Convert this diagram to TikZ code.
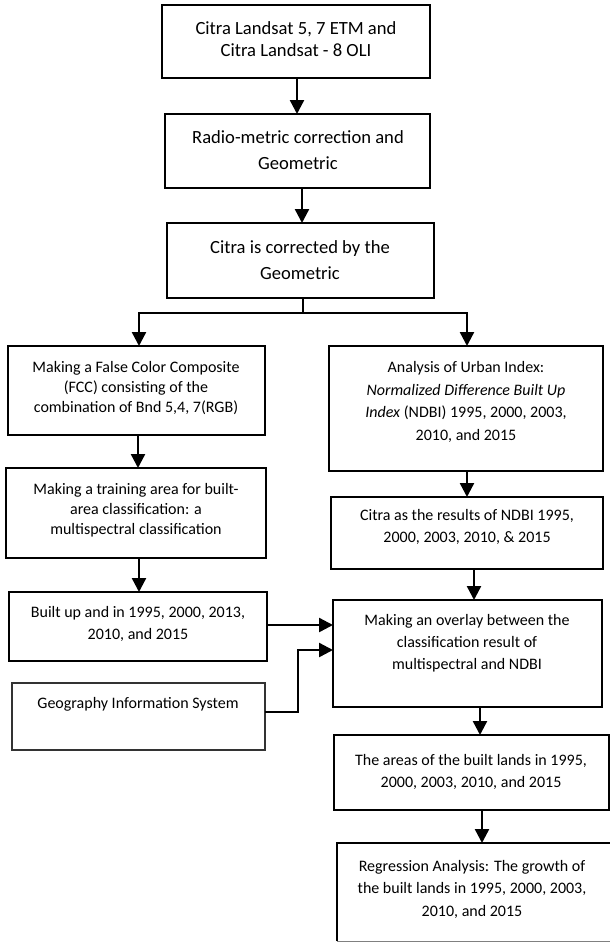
\documentclass[tikz,border=0pt]{standalone}
\usepackage{fontspec}
\setmainfont{Carlito}
\usetikzlibrary{fit,arrows.meta}
\begin{document}
\begin{tikzpicture}[x=1pt,y=-1pt,
  box/.style={draw, line width=1.4pt, inner sep=0pt, outer sep=0pt},
  big/.style={align=center, inner sep=0pt, font=\fontsize{18.6}{22}\selectfont},
  bigw/.style={align=center, inner sep=0pt, font=\fontsize{18.6}{26}\selectfont},
  small/.style={align=center, inner sep=0pt, font=\fontsize{16}{21.5}\selectfont},
  smallt/.style={align=center, inner sep=0pt, font=\fontsize{16}{20}\selectfont},
  arr/.style={line width=2.4pt, -{Triangle[width=14pt,length=14pt]}},
  conn/.style={line width=1.5pt}]
\useasboundingbox (0,0) rectangle (610,943);
\clip (0,0) rectangle (610,943);

% boxes
\node[box, fit={(162,5) (430,78)}] (b1) {};
\node[box, fit={(165,114) (430,188)}] (b2) {};
\node[box, fit={(167,223) (434,298)}] (b3) {};
\node[box, fit={(8,346) (265,435)}] (fcc) {};
\node[box, fit={(6,468) (266,558)}] (train) {};
\node[box, fit={(9,592) (267,661)}] (built) {};
\node[box, draw=black!80, fit={(12,683) (265,750)}] (gis) {};
\node[box, fit={(329,346) (603,471)}] (ndbi) {};
\node[box, fit={(331,497) (603,569)}] (cndbi) {};
\node[box, fit={(333,600) (602,707)}] (over) {};
\node[box, fit={(334,735) (609,810)}] (areas) {};
\node[box, draw=none, fit={(337,843) (630,941)}] (regr) {};
\draw[line width=1.4pt] (regr.south west) -- (regr.north west) -- (regr.north east);
\draw[line width=1pt, black!50] (regr.south west) -- (regr.south east);

% texts
\node[big] (t1) at (296,39) {Citra Landsat 5, 7 ETM and\\Citra Landsat - 8 OLI};
\node[bigw] (t2) at (298,150) {Radio-metric correction and\\Geometric};
\node[bigw] (t3) at (300,260) {Citra is corrected by the\\Geometric};
\node[smallt] (t4) at (136,388) {Making a False Color Composite\\(FCC) consisting of the\\combination of Bnd 5,4, 7(RGB)};
\node[smallt] (t5) at (136,510) {Making a training area for built-\\area classification: a\\multispectral classification};
\node[small] (t6) at (138,624) {Built up and in 1995, 2000, 2013,\\2010, and 2015};
\node[small] (t7) at (138,704) {Geography Information System};
\node[small, font=\fontsize{16}{22.5}\selectfont] (t8) at (466,402) {Analysis of Urban Index:\\\textit{Normalized Difference Built Up}\\\textit{Index} (NDBI) 1995, 2000, 2003,\\2010, and 2015};
\node[small] (t9) at (467,527) {Citra as the results of NDBI 1995,\\2000, 2003, 2010, \& 2015};
\node[small, font=\fontsize{16}{22}\selectfont] (t10) at (467,643) {Making an overlay between the\\classification result of\\multispectral and NDBI};
\node[small, font=\fontsize{16}{22}\selectfont] (t11) at (471,772) {The areas of the built lands in 1995,\\2000, 2003, 2010, and 2015};
\node[small, font=\fontsize{16}{22.5}\selectfont] (t12) at (472,889) {Regression Analysis: The growth of\\the built lands in 1995, 2000, 2003,\\2010, and 2015};

% helper coordinates
\coordinate (x1) at (297,0);
\coordinate (x2) at (302,0);
\coordinate (br) at (303,313);
\coordinate (bl) at (139,313);
\coordinate (brr) at (467,313);
\coordinate (x4) at (138,0);
\coordinate (x5) at (139,0);
\coordinate (x6) at (467,0);
\coordinate (x7) at (474,0);
\coordinate (x8) at (480,0);
\coordinate (x9) at (482,0);
\coordinate (h1) at (0,625);
\coordinate (g1) at (0,712);
\coordinate (g2) at (298,712);
\coordinate (g3) at (298,650);

% connectors
\draw[arr] (b1.south -| x1) -- (b2.north -| x1);
\draw[arr] (b2.south -| x2) -- (b3.north -| x2);
\draw[conn] (b3.south -| br) -- (br);
\draw[conn] (bl) -- (brr);
\draw[arr] ([yshift=0.75pt]bl) -- (fcc.north -| bl);
\draw[arr] ([yshift=0.75pt]brr) -- (ndbi.north -| brr);
\draw[arr] (fcc.south -| x4) -- (train.north -| x4);
\draw[arr] (train.south -| x5) -- (built.north -| x5);
\draw[arr] (built.east |- h1) -- (over.west |- h1);
\draw[arr] (gis.east |- g1) -- (g2) -- (g3) -- (over.west |- g3);
\draw[arr] (ndbi.south -| x6) -- (cndbi.north -| x6);
\draw[arr] (cndbi.south -| x7) -- (over.north -| x7);
\draw[arr] (over.south -| x8) -- (areas.north -| x8);
\draw[arr] (areas.south -| x9) -- (regr.north -| x9);
\end{tikzpicture}
\end{document}
